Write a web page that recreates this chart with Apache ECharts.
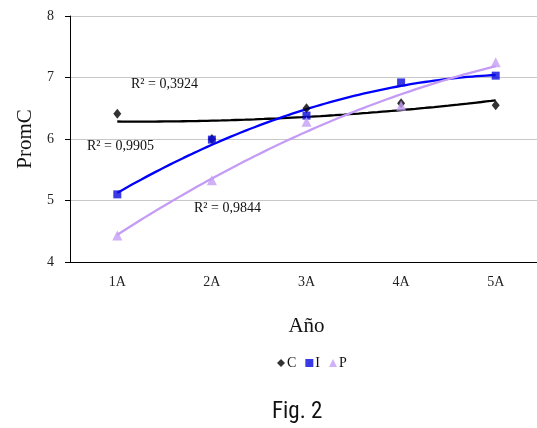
<!DOCTYPE html>
<html><head><meta charset="utf-8">
<script src="https://cdn.jsdelivr.net/npm/echarts@6/dist/echarts.min.js"></script>
<style>html,body{margin:0;padding:0;background:#fff}#c{width:537px;height:428px}</style>
</head><body><div id="c"></div>
<script>
const categories = ['1A','2A','3A','4A','5A'];
const valuesC = [6.41, 6.00, 6.50, 6.58, 6.55];
const valuesI = [5.10, 5.99, 6.38, 6.92, 7.03];
const valuesP = [4.43, 5.33, 6.28, 6.54, 7.25];
const r2Labels = ['R² = 0,3924', 'R² = 0,9905', 'R² = 0,9844'];
const yTicks = [4,5,6,7,8];

// quadratic least squares fit (Excel polynomial trendline, order 2)
function polyfit2(ys){
  const n=ys.length; let S=[0,0,0,0,0], T=[0,0,0];
  ys.forEach((y,i)=>{const x=i+1; for(let k=0;k<5;k++)S[k]+=Math.pow(x,k); for(let k=0;k<3;k++)T[k]+=y*Math.pow(x,k);});
  const A=[[S[0],S[1],S[2],T[0]],[S[1],S[2],S[3],T[1]],[S[2],S[3],S[4],T[2]]];
  for(let i=0;i<3;i++){for(let j=i+1;j<3;j++){const f=A[j][i]/A[i][i];for(let k=i;k<4;k++)A[j][k]-=f*A[i][k];}}
  const c=[0,0,0];
  for(let i=2;i>=0;i--){let s=A[i][3];for(let k=i+1;k<3;k++)s-=A[i][k]*c[k];c[i]=s/A[i][i];}
  return c;
}
function trend(ys){
  const c=polyfit2(ys); const out=[];
  for(let x=1;x<=5.0001;x+=0.05) out.push([x, c[0]+c[1]*x+c[2]*x*x]);
  return out;
}
const pts = ys => ys.map((v,i)=>[i+1,v]);

const serif = '"Liberation Serif","Times New Roman",serif';
const colC='#000000', colI='#0000ff', colP='#c49cf5';

const chart = echarts.init(document.getElementById('c'));
chart.setOption({
  animation:false,
  backgroundColor:'#fff',
  grid:{left:70, top:16, width:473, height:246, outerBoundsMode:'none', containLabel:false},
  xAxis:[
    {type:'category', data:categories, boundaryGap:true,
     axisLine:{lineStyle:{color:'#000',width:1}},
     axisTick:{length:5, lineStyle:{color:'#000'}},
     axisLabel:{fontFamily:serif, fontSize:14, color:'#222', margin:13},
     name:'Año', nameLocation:'middle', nameGap:54,
     nameTextStyle:{fontFamily:serif, fontSize:21, color:'#111'}},
    {type:'value', min:0.5, max:5.5, show:false}
  ],
  yAxis:{type:'value', min:4, max:8, interval:1,
    axisLine:{show:true, lineStyle:{color:'#000'}},
    axisTick:{show:true, length:5, lineStyle:{color:'#000'}},
    axisLabel:{fontFamily:serif, fontSize:14, color:'#222', margin:16},
    splitLine:{lineStyle:{color:'#c8c8c8', width:1}},
    name:'PromC', nameLocation:'middle', nameGap:30,
    nameTextStyle:{fontFamily:serif, fontSize:21, color:'#111'}},
  legend:{top:351, left:272, itemGap:9, itemWidth:8, itemHeight:8,
    textStyle:{fontFamily:serif, fontSize:14, color:'#111', padding:[0,0,0,-3]},
    data:[{name:'C', icon:'diamond'},{name:'I', icon:'rect'},{name:'P', icon:'triangle'}]},
  series:[
    {type:'line', xAxisIndex:1, data:trend(valuesC), showSymbol:false, lineStyle:{color:colC,width:2.3}, silent:true, z:3},
    {type:'line', xAxisIndex:1, data:trend(valuesI), showSymbol:false, lineStyle:{color:colI,width:2.3}, silent:true, z:3},
    {type:'line', xAxisIndex:1, data:trend(valuesP), showSymbol:false, lineStyle:{color:colP,width:2.3}, silent:true, z:3},
    {name:'C', type:'scatter', xAxisIndex:1, data:pts(valuesC), symbol:'diamond', symbolSize:[8,10], itemStyle:{color:colC}, z:4},
    {name:'I', type:'scatter', xAxisIndex:1, data:pts(valuesI), symbol:'rect', symbolSize:8, itemStyle:{color:'#0a0ae0'}, z:4},
    {name:'P', type:'scatter', xAxisIndex:1, data:pts(valuesP), symbol:'triangle', symbolSize:10, itemStyle:{color:colP}, z:4}
  ],
  graphic:[
    {type:'text', left:131, top:77, style:{text:r2Labels[0], font:'14px '+serif, fill:'#111'}},
    {type:'text', left:87, top:139, style:{text:r2Labels[1], font:'14px '+serif, fill:'#111'}},
    {type:'text', left:194, top:201, style:{text:r2Labels[2], font:'14px '+serif, fill:'#111'}},
    {type:'text', left:272, top:401, style:{text:'Fig. 2', font:'23px "Liberation Sans Narrow", "Roboto Condensed", sans-serif', fill:'#111'}}
  ]
});
</script></body></html>
